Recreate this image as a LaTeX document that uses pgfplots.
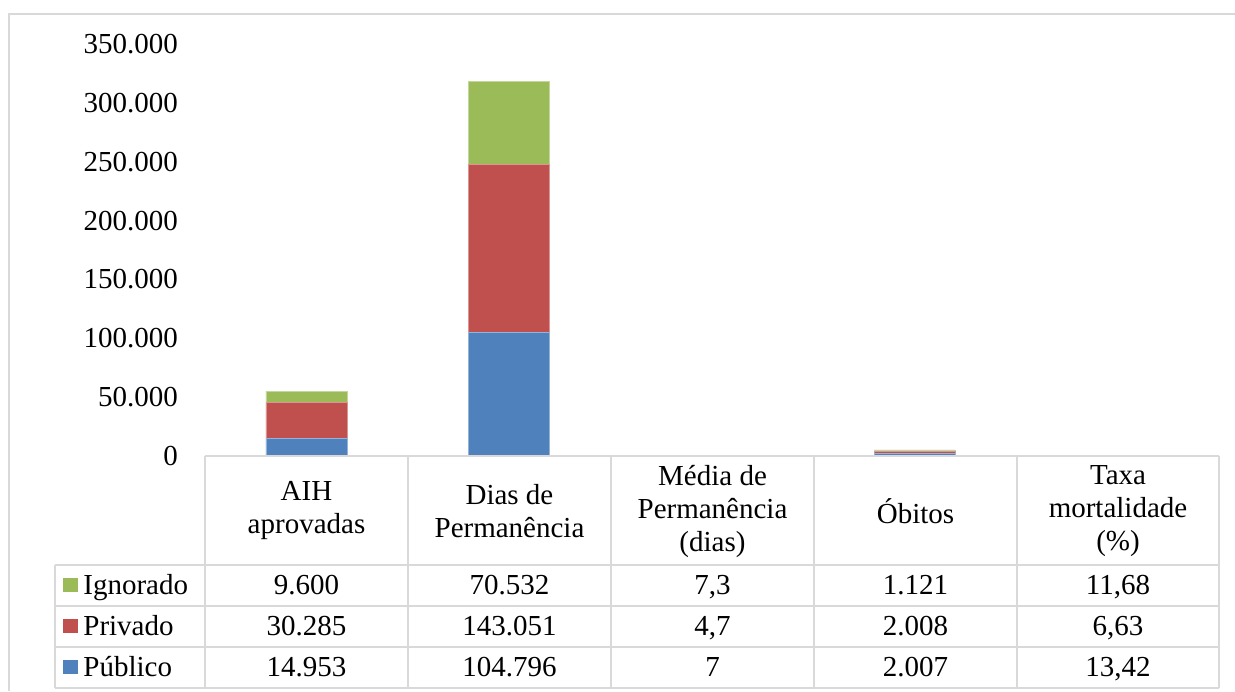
\documentclass[border=0pt]{standalone}
\usepackage{fontspec}
\setmainfont{Liberation Serif}
\usepackage{pgfplots}
\pgfplotsset{compat=1.18}
\definecolor{cpub}{HTML}{4F81BD}
\definecolor{cpriv}{HTML}{C0504D}
\definecolor{cign}{HTML}{9BBB59}
\definecolor{tgrid}{HTML}{D9D9D9}
\begin{document}
\begin{tikzpicture}
\fontsize{14.5}{16.5}\selectfont
\path[use as bounding box] (0,0) rectangle (617.5pt,-345.5pt);
\begin{axis}[
  at={(102.5pt,-228pt)}, anchor=south west,
  scale only axis, width=507pt, height=206pt,
  xmin=-0.5, xmax=4.5, ymin=0, ymax=350000,
  axis line style={draw=none},
  major tick length=0pt,
  xtick=\empty,
  ytick={0,50000,100000,150000,200000,250000,300000,350000},
  scaled y ticks=false,
  /pgf/number format/.cd, fixed, 1000 sep={.}, assume math mode=true,
  /pgfplots/.cd,
  tick label style={font=\fontsize{14.5}{16.5}\selectfont},
  yticklabel style={anchor=east, xshift=-8.5pt},
  ybar stacked, bar width=40.5pt,
  clip=false,
]
\addplot[fill=cpub, draw=cpub!60!white, line width=0.4pt] coordinates {(0,14953) (1,104796) (2,7) (3,2007) (4,13.42)};
\addplot[fill=cpriv, draw=cpriv!60!white, line width=0.4pt] coordinates {(0,30285) (1,143051) (2,4.7) (3,2008) (4,6.63)};
\addplot[fill=cign, draw=cign!60!white, line width=0.4pt] coordinates {(0,9600) (1,70532) (2,7.3) (3,1121) (4,11.68)};
\end{axis}
\begin{scope}[x=0.5pt,y=-0.5pt]
% outer frame
\draw[tgrid, line width=1pt] (9,691) -- (9,14) -- (1235,14);
% table
\begin{scope}[tgrid, line width=1pt]
\draw (205,456) -- (1219,456);
\foreach \yy in {565,606,647,688} \draw (55,\yy) -- (1219,\yy);
\draw (55,565) -- (55,688);
\foreach \xx in {205,408,611,814,1017,1219} \draw (\xx,456) -- (\xx,688);
\end{scope}
% header
\tikzset{hd/.style={align=center, inner sep=0pt, font=\fontsize{14.5}{16.5}\selectfont}}
\node[hd] at (306.5,511) {AIH\\aprovadas};
\node[hd] at (509.5,511) {Dias de\\Permanência};
\node[hd] at (712.5,511) {Média de\\Permanência\\(dias)};
\node[hd] at (915.5,511) {Óbitos};
\node[hd] at (1118,511) {Taxa\\mortalidade\\(\%)};
% legend keys
\fill[cign] (63,578) rectangle (78,592);
\fill[cpriv] (63,619) rectangle (78,633);
\fill[cpub] (63,660) rectangle (78,674);
\node[anchor=base west, inner sep=0pt] at (83,594) {Ignorado};
\node[anchor=base west, inner sep=0pt] at (83,635) {Privado};
\node[anchor=base west, inner sep=0pt] at (83,676) {Público};
% values
\foreach \cx/\a/\b/\c in {306.5/9.600/30.285/14.953, 509.5/70.532/143.051/104.796, 712.5/{7,3}/{4,7}/7, 915.5/1.121/2.008/2.007, 1118/{11,68}/{6,63}/{13,42}} {
  \node[anchor=base, inner sep=0pt] at (\cx,594) {\a};
  \node[anchor=base, inner sep=0pt] at (\cx,635) {\b};
  \node[anchor=base, inner sep=0pt] at (\cx,676) {\c};
}
\end{scope}
\end{tikzpicture}
\end{document}
